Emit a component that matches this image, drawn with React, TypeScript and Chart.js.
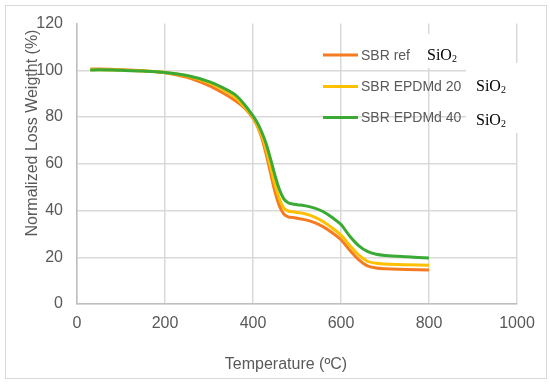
import React, { useEffect, useRef } from "react";
import { Chart, registerables } from "chart.js";

Chart.register(...registerables);

const temperatures = [30, 50, 100, 150, 200, 250, 300, 330, 360, 380, 400, 410, 420, 430, 440, 450, 460, 470, 480, 490, 500, 520, 540, 560, 580, 600, 620, 640, 660, 680, 700, 750, 800];
const sbrRef = [100.5, 100.6, 100.3, 99.8, 99.0, 97.0, 93.5, 90.5, 87.0, 84.0, 79.5, 76.0, 71.0, 64.0, 56.0, 48.0, 42.0, 38.5, 37.3, 37.0, 36.7, 36.0, 34.8, 33.0, 30.5, 27.5, 23.0, 19.0, 16.3, 15.4, 15.1, 14.8, 14.5];
const sbrEpdm20 = [100.2, 100.3, 100.1, 99.7, 99.1, 97.6, 94.8, 92.0, 88.5, 84.5, 80.0, 76.5, 72.0, 66.0, 58.5, 51.0, 45.0, 41.0, 39.8, 39.5, 39.2, 38.5, 37.2, 35.2, 32.5, 29.5, 25.0, 21.0, 18.3, 17.4, 17.1, 16.8, 16.6];
const sbrEpdm40 = [100.1, 100.2, 100.0, 99.7, 99.1, 97.8, 95.2, 92.7, 89.5, 85.5, 80.5, 77.5, 73.5, 68.5, 62.0, 55.0, 49.0, 45.0, 43.3, 42.8, 42.5, 42.0, 41.0, 39.5, 37.0, 34.0, 29.0, 25.0, 22.5, 21.3, 20.8, 20.2, 19.7];

const seriesNames = ["SBR ref", "SBR EPDMd 20", "SBR EPDMd 40"];
const seriesColors = ["#F47B20", "#FFC000", "#3BAA35"];
const xTitle = "Temperature (ºC)";
const yTitle = "Normalized Loss Weigtht (%)";
const suffixMain = "SiO";
const suffixSub = "2";

const toPoints = (ys: number[]) => ys.map((y, i) => ({ x: temperatures[i], y }));

const decorPlugin = {
  id: "decor",
  beforeDraw(chart: any) {
    const ctx = chart.ctx;
    ctx.save();
    ctx.fillStyle = "#ffffff";
    ctx.fillRect(0, 0, chart.width, chart.height);
    ctx.strokeStyle = "#d9d9d9";
    ctx.lineWidth = 1;
    ctx.strokeRect(5.5, 5.5, 541, 373);
    ctx.restore();
  },
  afterDraw(chart: any) {
    const ctx = chart.ctx;
    ctx.save();
    // white boxes behind the SiO2 labels
    ctx.fillStyle = "#ffffff";
    ctx.fillRect(413, 34, 57, 34);
    ctx.fillRect(466, 63, 64, 70);

    // legend
    const rows = [55, 86.5, 117.5];
    ctx.font = "14px 'Liberation Sans', Arial, sans-serif";
    ctx.textBaseline = "middle";
    ctx.textAlign = "left";
    seriesNames.forEach((name, i) => {
      ctx.strokeStyle = seriesColors[i];
      ctx.lineWidth = 3;
      ctx.beginPath();
      ctx.moveTo(323, rows[i]);
      ctx.lineTo(358, rows[i]);
      ctx.stroke();
      ctx.fillStyle = "#595959";
      ctx.fillText(name, 361, rows[i] + 1);
    });

    // SiO2 labels
    const sio = [
      { x: 427, y: 56 },
      { x: 476, y: 87 },
      { x: 476, y: 121 },
    ];
    ctx.fillStyle = "#000000";
    sio.forEach((p) => {
      ctx.font = "16px 'Liberation Serif', 'Times New Roman', serif";
      ctx.textBaseline = "middle";
      ctx.fillText(suffixMain, p.x, p.y);
      const w = ctx.measureText(suffixMain).width;
      ctx.font = "10px 'Liberation Serif', 'Times New Roman', serif";
      ctx.fillText(suffixSub, p.x + w, p.y + 3);
    });

    // axis titles
    ctx.fillStyle = "#595959";
    ctx.font = "16px 'Liberation Sans', Arial, sans-serif";
    ctx.textAlign = "center";
    ctx.textBaseline = "middle";
    ctx.fillText(xTitle, 286, 365);
    ctx.translate(37, 133);
    ctx.rotate(-Math.PI / 2);
    ctx.textBaseline = "alphabetic";
    ctx.fillText(yTitle, 0, 0);
    ctx.restore();
  },
};

export default function App() {
  const canvasRef = useRef<HTMLCanvasElement | null>(null);

  useEffect(() => {
    if (!canvasRef.current) return;
    const order = [2, 1, 0];
    const chart = new Chart(canvasRef.current, {
      type: "line",
      data: {
        datasets: [sbrRef, sbrEpdm20, sbrEpdm40].map((vals, i) => ({
          label: seriesNames[i],
          data: toPoints(vals),
          borderColor: seriesColors[i],
          backgroundColor: seriesColors[i],
          borderWidth: 3,
          pointRadius: 0,
          tension: 0.35,
          fill: false,
          order: order[i],
        })),
      },
      options: {
        responsive: false,
        animation: false,
        layout: { padding: { left: 0, top: 17, right: 33, bottom: 0 } },
        plugins: {
          legend: { display: false },
          tooltip: { enabled: false },
          title: { display: false },
        },
        scales: {
          x: {
            type: "linear",
            min: 0,
            max: 1000,
            afterFit: (s: any) => {
              s.height = 81;
            },
            ticks: {
              stepSize: 200,
              padding: 10,
              color: "#595959",
              font: { size: 16, family: "'Liberation Sans', Arial, sans-serif" },
              maxRotation: 0,
              callback: (v: any) => String(v),
            },
            grid: { color: "#d9d9d9", lineWidth: 1.5, drawTicks: false },
            border: { color: "#bfbfbf", width: 1.5 },
          },
          y: {
            min: 0,
            max: 120,
            afterFit: (s: any) => {
              s.width = 77;
            },
            ticks: {
              stepSize: 20,
              padding: 14,
              color: "#595959",
              font: { size: 16, family: "'Liberation Sans', Arial, sans-serif" },
              callback: (v: any) => String(v),
            },
            grid: {
              color: (c: any) => (c.tick && c.tick.value === 120 ? "rgba(0,0,0,0)" : "#d9d9d9"),
              lineWidth: 1.5,
              drawTicks: false,
            },
            border: { color: "#bfbfbf", width: 1.5 },
          },
        },
      },
      plugins: [decorPlugin],
    });
    return () => chart.destroy();
  }, []);

  return (
    <div style={{ position: "fixed", left: 0, top: 0, width: 550, height: 385, background: "#fff" }}>
      <canvas ref={canvasRef} width={550} height={385} style={{ display: "block", width: 550, height: 385 }} />
    </div>
  );
}
